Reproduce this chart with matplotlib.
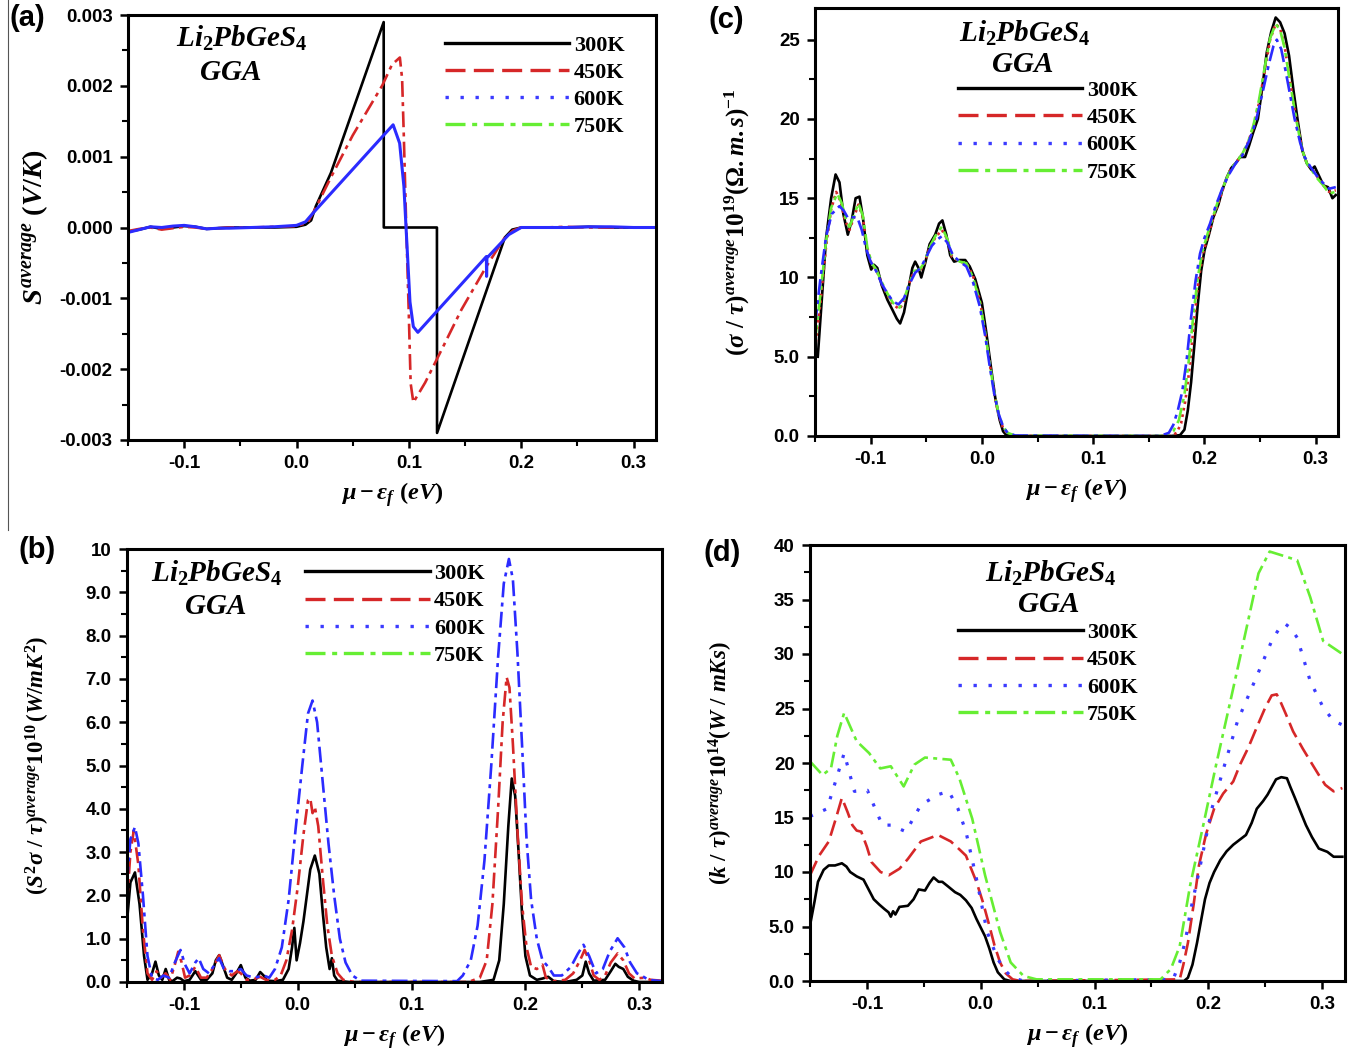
import numpy as np
import matplotlib
matplotlib.use("Agg")
import matplotlib.pyplot as plt
from matplotlib.lines import Line2D
from matplotlib.ticker import MultipleLocator, FixedLocator, FixedFormatter

plt.rcParams['font.family'] = 'Liberation Sans'
plt.rcParams['font.weight'] = 'bold'
plt.rcParams['mathtext.fontset'] = 'custom'
plt.rcParams['mathtext.rm'] = 'Liberation Serif:bold'
plt.rcParams['mathtext.it'] = 'Liberation Serif:italic:bold'
plt.rcParams['mathtext.bf'] = 'Liberation Serif:bold'

temps = ['300K', '450K', '600K', '750K']

# ---- (a) Seebeck coefficient S (V/K), pairs of (mu - Ef, S)
a_300 = np.array([
    [-0.15, -0.00006], [-0.14, -0.00003], [-0.13, 0.00001], [-0.12, -0.00002], [-0.11, 0.0],
    [-0.10, 0.00002], [-0.09, 0.00001], [-0.08, -0.00002], [-0.07, -0.00001], [-0.06, 0.0],
    [-0.04, 0.0], [-0.02, 0.0], [0.0, 0.00001], [0.008, 0.00004], [0.013, 0.0001],
    [0.0172, 0.0003], [0.0306, 0.00077], [0.0776, 0.0029], [0.0777, 0.0], [0.125, 0.0],
    [0.1251, -0.0029], [0.1855, -0.00014], [0.192, -0.00003], [0.20, 0.0], [0.22, 0.0],
    [0.24, 0.0], [0.26, 0.00001], [0.28, 0.0], [0.30, 0.0], [0.32, 0.0]])
a_450 = np.array([
    [-0.15, -0.00005], [-0.14, -0.00002], [-0.13, 0.0], [-0.12, -0.00003], [-0.11, -0.00001],
    [-0.10, 0.00001], [-0.09, 0.0], [-0.08, -0.00002], [-0.07, -0.00001], [-0.06, 0.0],
    [-0.04, 0.0], [-0.02, 0.00001], [0.0, 0.00002], [0.01, 0.00007], [0.0172, 0.00028],
    [0.031, 0.00072], [0.05, 0.0013], [0.0765, 0.00201], [0.085, 0.0023], [0.092, 0.0024],
    [0.094, 0.0021], [0.0955, 0.0013], [0.0977, 0.0], [0.1, -0.00125], [0.1016, -0.0022],
    [0.104, -0.00247], [0.1145, -0.00219], [0.1306, -0.00168], [0.1468, -0.00116], [0.169, -0.00055],
    [0.185, -0.00015], [0.193, -0.00004], [0.20, 0.0], [0.22, 0.0], [0.24, 0.00001],
    [0.26, 0.0], [0.28, 0.0], [0.30, 0.0], [0.32, 0.0]])
a_600 = np.array([
    [-0.15, -0.00007], [-0.14, -0.00003], [-0.13, 0.00001], [-0.12, 0.0], [-0.11, 0.00002],
    [-0.10, 0.00003], [-0.09, 0.00001], [-0.08, -0.00002], [-0.07, -0.00001], [-0.06, -0.00001],
    [-0.04, 0.0], [-0.02, 0.00001], [0.0, 0.00003], [0.008, 0.00008], [0.0145, 0.0002],
    [0.086, 0.00145], [0.0918, 0.00119], [0.0956, 0.00058], [0.0975, 0.0], [0.101, -0.00105],
    [0.104, -0.0014], [0.108, -0.00148], [0.169, -0.00041], [0.1692, -0.00069], [0.1695, -0.00043],
    [0.189, -0.0001], [0.20, 0.0], [0.22, 0.0], [0.24, 0.0], [0.26, 0.00001],
    [0.28, 0.00001], [0.30, 0.0], [0.32, 0.0]])

# ---- (b) power factor S^2 sigma / tau
b_300 = np.array([
    [-0.15, 1.4], [-0.147, 2.3], [-0.143, 2.53], [-0.139, 1.8], [-0.135, 0.6], [-0.132, 0.05],
    [-0.128, 0.2], [-0.125, 0.47], [-0.122, 0.15], [-0.119, 0.05], [-0.116, 0.3], [-0.113, 0.05],
    [-0.11, 0.02], [-0.106, 0.1], [-0.103, 0.08], [-0.1, 0.02], [-0.095, 0.05], [-0.09, 0.25],
    [-0.085, 0.05], [-0.08, 0.05], [-0.075, 0.2], [-0.072, 0.5], [-0.069, 0.62], [-0.066, 0.4],
    [-0.062, 0.1], [-0.058, 0.05], [-0.054, 0.2], [-0.05, 0.39], [-0.046, 0.1], [-0.042, 0.03],
    [-0.037, 0.05], [-0.033, 0.23], [-0.03, 0.15], [-0.027, 0.03], [-0.02, 0.02], [-0.013, 0.05],
    [-0.008, 0.3], [-0.005, 0.8], [-0.003, 1.25], [-0.001, 0.5], [0.002, 0.9], [0.005, 1.4],
    [0.008, 2.0], [0.011, 2.6], [0.015, 2.92], [0.019, 2.5], [0.022, 1.6], [0.025, 0.8],
    [0.028, 0.3], [0.03, 0.55], [0.032, 0.15], [0.035, 0.03], [0.045, 0.0], [0.1, 0.0],
    [0.16, 0.0], [0.172, 0.05], [0.177, 0.5], [0.181, 1.8], [0.185, 3.6], [0.188, 4.7],
    [0.191, 4.3], [0.194, 3.0], [0.197, 1.6], [0.2, 0.6], [0.204, 0.15], [0.21, 0.05],
    [0.215, 0.08], [0.22, 0.12], [0.225, 0.02], [0.235, 0.0], [0.245, 0.05], [0.25, 0.15],
    [0.253, 0.47], [0.256, 0.2], [0.26, 0.03], [0.27, 0.05], [0.275, 0.25], [0.279, 0.42],
    [0.282, 0.35], [0.286, 0.3], [0.29, 0.12], [0.295, 0.03], [0.3, 0.0], [0.32, 0.0]])
b_450 = np.array([
    [-0.15, 1.8], [-0.147, 3.0], [-0.144, 3.5], [-0.14, 2.7], [-0.136, 1.2], [-0.132, 0.2],
    [-0.128, 0.05], [-0.124, 0.25], [-0.12, 0.1], [-0.116, 0.2], [-0.112, 0.05], [-0.108, 0.4],
    [-0.105, 0.7], [-0.102, 0.45], [-0.099, 0.1], [-0.095, 0.15], [-0.09, 0.35], [-0.085, 0.1],
    [-0.08, 0.1], [-0.075, 0.3], [-0.069, 0.62], [-0.064, 0.3], [-0.058, 0.15], [-0.053, 0.25],
    [-0.05, 0.2], [-0.045, 0.05], [-0.04, 0.05], [-0.033, 0.12], [-0.028, 0.05], [-0.02, 0.05],
    [-0.015, 0.15], [-0.01, 0.5], [-0.005, 1.2], [0.0, 2.2], [0.005, 3.4], [0.009, 4.2],
    [0.011, 4.24], [0.013, 3.9], [0.015, 4.05], [0.018, 3.6], [0.022, 2.4], [0.026, 1.3],
    [0.03, 0.6], [0.035, 0.2], [0.04, 0.05], [0.05, 0.0], [0.15, 0.0], [0.16, 0.1],
    [0.166, 0.5], [0.171, 1.8], [0.176, 4.0], [0.18, 6.0], [0.1835, 7.04], [0.186, 6.8],
    [0.189, 5.5], [0.193, 3.5], [0.197, 1.8], [0.201, 0.8], [0.205, 0.35], [0.21, 0.3],
    [0.215, 0.4], [0.218, 0.1], [0.225, 0.02], [0.235, 0.05], [0.242, 0.2], [0.248, 0.5],
    [0.252, 0.74], [0.256, 0.5], [0.26, 0.15], [0.265, 0.05], [0.27, 0.15], [0.275, 0.45],
    [0.281, 0.66], [0.286, 0.5], [0.291, 0.2], [0.296, 0.08], [0.305, 0.1], [0.31, 0.05],
    [0.32, 0.03]])
b_600 = np.array([
    [-0.15, 2.3], [-0.147, 3.3], [-0.143, 3.58], [-0.14, 3.2], [-0.136, 2.0], [-0.132, 0.6],
    [-0.128, 0.1], [-0.123, 0.05], [-0.118, 0.15], [-0.113, 0.1], [-0.108, 0.45], [-0.103, 0.74],
    [-0.099, 0.4], [-0.095, 0.2], [-0.09, 0.45], [-0.087, 0.55], [-0.083, 0.3], [-0.078, 0.2],
    [-0.073, 0.4], [-0.069, 0.55], [-0.065, 0.31], [-0.06, 0.25], [-0.055, 0.25], [-0.05, 0.3],
    [-0.045, 0.15], [-0.038, 0.1], [-0.03, 0.15], [-0.025, 0.1], [-0.02, 0.3], [-0.014, 0.8],
    [-0.008, 1.9], [-0.002, 3.5], [0.004, 5.0], [0.009, 6.2], [0.013, 6.5], [0.017, 6.0],
    [0.022, 4.6], [0.027, 3.2], [0.032, 2.0], [0.037, 1.0], [0.042, 0.45], [0.048, 0.15],
    [0.055, 0.03], [0.14, 0.02], [0.145, 0.15], [0.152, 0.5], [0.158, 1.3], [0.164, 2.8],
    [0.17, 5.0], [0.176, 7.5], [0.181, 9.2], [0.1855, 9.77], [0.189, 9.3], [0.193, 7.6],
    [0.197, 5.5], [0.201, 3.3], [0.205, 1.9], [0.21, 1.0], [0.215, 0.5], [0.22, 0.35],
    [0.225, 0.15], [0.232, 0.15], [0.24, 0.35], [0.246, 0.65], [0.251, 0.86], [0.256, 0.6],
    [0.262, 0.2], [0.268, 0.3], [0.274, 0.7], [0.281, 1.01], [0.287, 0.8], [0.292, 0.45],
    [0.298, 0.2], [0.302, 0.15], [0.308, 0.05], [0.32, 0.02]])

# ---- (c) electrical conductivity sigma / tau
c_300 = np.array([
    [-0.1475, 5.0], [-0.144, 8.5], [-0.14, 12.5], [-0.1355, 15.0], [-0.1315, 16.5], [-0.128, 16.0],
    [-0.1245, 14.0], [-0.1205, 12.7], [-0.117, 13.6], [-0.1135, 15.0], [-0.11, 15.1], [-0.107, 13.8],
    [-0.103, 11.4], [-0.0995, 10.5], [-0.097, 10.8], [-0.094, 10.6], [-0.09, 9.5], [-0.085, 8.6],
    [-0.08, 7.9], [-0.0765, 7.4], [-0.0735, 7.1], [-0.07, 7.8], [-0.066, 9.3], [-0.0625, 10.6],
    [-0.06, 11.0], [-0.057, 10.6], [-0.0545, 10.0], [-0.051, 10.9], [-0.047, 12.1], [-0.042, 12.7],
    [-0.0385, 13.4], [-0.0355, 13.6], [-0.032, 12.7], [-0.0285, 11.4], [-0.025, 11.0], [-0.02, 11.1],
    [-0.015, 11.1], [-0.011, 10.7], [-0.006, 9.9], [0.0, 8.4], [0.004, 6.5], [0.008, 4.4],
    [0.012, 2.4], [0.016, 1.0], [0.019, 0.3], [0.022, 0.05], [0.03, 0.0], [0.17, 0.0],
    [0.178, 0.05], [0.182, 0.4], [0.185, 1.6], [0.188, 3.4], [0.191, 5.8], [0.194, 8.3],
    [0.197, 10.4], [0.2, 11.7], [0.204, 12.7], [0.208, 13.8], [0.2125, 14.6], [0.216, 15.5],
    [0.22, 16.3], [0.224, 16.9], [0.228, 17.2], [0.232, 17.6], [0.2365, 17.6], [0.24, 18.3],
    [0.244, 19.2], [0.248, 20.0], [0.252, 22.0], [0.256, 24.2], [0.26, 25.5], [0.264, 26.4],
    [0.268, 26.1], [0.272, 25.4], [0.276, 24.0], [0.28, 21.8], [0.284, 19.8], [0.288, 18.0],
    [0.292, 17.2], [0.296, 16.8], [0.299, 17.0], [0.303, 16.4], [0.307, 15.8], [0.311, 15.7],
    [0.315, 15.0], [0.318, 15.2]])
c_450 = np.array([
    [-0.15, 5.5], [-0.145, 8.5], [-0.14, 12.0], [-0.1355, 14.3], [-0.131, 15.4], [-0.127, 14.8],
    [-0.123, 13.6], [-0.119, 13.0], [-0.115, 13.8], [-0.111, 14.6], [-0.107, 13.8], [-0.103, 11.8],
    [-0.099, 10.8], [-0.095, 10.5], [-0.09, 9.6], [-0.085, 8.9], [-0.08, 8.3], [-0.074, 8.0],
    [-0.07, 8.5], [-0.066, 9.5], [-0.061, 10.4], [-0.056, 10.4], [-0.052, 10.8], [-0.047, 11.9],
    [-0.042, 12.5], [-0.036, 13.0], [-0.031, 12.4], [-0.027, 11.3], [-0.02, 11.0], [-0.014, 10.9],
    [-0.008, 10.1], [-0.002, 8.6], [0.003, 6.6], [0.007, 4.6], [0.011, 2.7], [0.015, 1.3],
    [0.019, 0.5], [0.023, 0.15], [0.03, 0.0], [0.17, 0.0], [0.175, 0.2], [0.179, 0.8],
    [0.183, 2.3], [0.187, 4.5], [0.191, 7.5], [0.195, 10.0], [0.199, 11.6], [0.204, 12.8],
    [0.209, 14.0], [0.214, 15.0], [0.219, 16.1], [0.224, 16.9], [0.229, 17.3], [0.234, 17.8],
    [0.239, 18.5], [0.244, 19.5], [0.249, 21.0], [0.254, 23.0], [0.259, 25.0], [0.264, 26.0],
    [0.268, 25.7], [0.272, 24.6], [0.276, 22.8], [0.28, 21.0], [0.284, 19.5], [0.288, 18.0],
    [0.292, 17.2], [0.297, 16.8], [0.302, 16.3], [0.307, 15.8], [0.312, 15.4], [0.318, 15.5]])
c_600 = np.array([
    [-0.15, 7.0], [-0.145, 10.0], [-0.14, 12.6], [-0.135, 14.0], [-0.128, 14.5], [-0.124, 14.2],
    [-0.12, 13.7], [-0.116, 13.8], [-0.112, 13.8], [-0.108, 13.0], [-0.104, 11.8], [-0.1, 11.0],
    [-0.095, 10.4], [-0.09, 9.6], [-0.085, 9.0], [-0.08, 8.5], [-0.075, 8.3], [-0.07, 8.7],
    [-0.065, 9.6], [-0.06, 10.3], [-0.055, 10.6], [-0.05, 11.3], [-0.045, 12.0], [-0.04, 12.4],
    [-0.036, 12.6], [-0.031, 12.2], [-0.026, 11.4], [-0.02, 11.0], [-0.014, 10.7], [-0.008, 9.7],
    [-0.002, 8.2], [0.003, 6.3], [0.007, 4.4], [0.011, 2.7], [0.015, 1.4], [0.019, 0.6],
    [0.023, 0.2], [0.03, 0.03], [0.16, 0.0], [0.168, 0.2], [0.172, 0.7], [0.176, 1.6],
    [0.18, 2.8], [0.184, 4.8], [0.188, 7.5], [0.192, 9.8], [0.196, 11.5], [0.2, 12.5],
    [0.205, 13.4], [0.21, 14.5], [0.216, 15.6], [0.222, 16.5], [0.228, 17.2], [0.234, 17.7],
    [0.24, 18.6], [0.246, 19.8], [0.252, 21.6], [0.258, 23.5], [0.262, 24.6], [0.265, 25.0],
    [0.269, 24.4], [0.273, 23.0], [0.277, 21.5], [0.281, 20.0], [0.286, 18.5], [0.29, 17.6],
    [0.295, 17.0], [0.3, 16.5], [0.306, 16.0], [0.312, 15.6], [0.318, 15.7]])
c_750 = np.array([
    [-0.15, 6.0], [-0.145, 9.0], [-0.14, 12.3], [-0.1355, 14.4], [-0.13, 15.3], [-0.126, 14.7],
    [-0.122, 13.6], [-0.119, 13.2], [-0.115, 13.9], [-0.111, 14.7], [-0.107, 13.9], [-0.103, 11.9],
    [-0.099, 10.9], [-0.095, 10.5], [-0.09, 9.7], [-0.085, 9.0], [-0.08, 8.4], [-0.074, 8.1],
    [-0.07, 8.6], [-0.066, 9.5], [-0.061, 10.4], [-0.056, 10.5], [-0.052, 10.9], [-0.047, 11.9],
    [-0.042, 12.6], [-0.036, 13.2], [-0.031, 12.4], [-0.027, 11.4], [-0.02, 11.0], [-0.014, 10.9],
    [-0.008, 10.0], [-0.002, 8.5], [0.003, 6.5], [0.007, 4.6], [0.011, 2.8], [0.015, 1.4],
    [0.019, 0.6], [0.023, 0.2], [0.03, 0.02], [0.165, 0.0], [0.172, 0.3], [0.177, 1.0],
    [0.182, 2.6], [0.186, 4.8], [0.19, 7.6], [0.194, 10.0], [0.198, 11.6], [0.203, 12.8],
    [0.208, 13.9], [0.213, 15.0], [0.219, 16.1], [0.224, 16.9], [0.229, 17.3], [0.234, 17.8],
    [0.239, 18.5], [0.244, 19.6], [0.249, 21.2], [0.254, 23.2], [0.259, 25.1], [0.264, 26.0],
    [0.268, 25.6], [0.272, 24.5], [0.276, 22.7], [0.28, 21.0], [0.284, 19.4], [0.288, 18.0],
    [0.292, 17.2], [0.297, 16.7], [0.302, 16.2], [0.307, 15.8], [0.312, 15.3], [0.318, 15.4]])

# ---- (d) electronic thermal conductivity k / tau
d_300 = np.array([
    [-0.15, 5.1], [-0.146, 7.3], [-0.143, 9.1], [-0.138, 10.2], [-0.1335, 10.6], [-0.128, 10.6],
    [-0.122, 10.8], [-0.118, 10.5], [-0.1147, 10.0], [-0.109, 9.6], [-0.103, 9.3], [-0.099, 8.5],
    [-0.094, 7.5], [-0.089, 7.0], [-0.0846, 6.6], [-0.081, 6.3], [-0.079, 5.9], [-0.077, 6.4],
    [-0.075, 6.1], [-0.0714, 6.8], [-0.064, 6.9], [-0.059, 7.5], [-0.0545, 8.4], [-0.049, 8.3],
    [-0.045, 9.0], [-0.0414, 9.5], [-0.037, 9.1], [-0.0338, 9.1], [-0.029, 8.7], [-0.0226, 8.15],
    [-0.018, 7.9], [-0.013, 7.4], [-0.008, 6.7], [-0.0038, 5.7], [0.0, 4.9], [0.0038, 4.1],
    [0.0075, 3.0], [0.0113, 1.7], [0.015, 0.8], [0.0207, 0.15], [0.026, 0.0], [0.1786, 0.0],
    [0.182, 0.3], [0.186, 1.5], [0.19, 3.5], [0.194, 5.8], [0.197, 7.5], [0.201, 9.0],
    [0.205, 10.0], [0.2105, 11.1], [0.216, 11.9], [0.2218, 12.5], [0.228, 13.0], [0.233, 13.4],
    [0.238, 14.5], [0.2425, 15.8], [0.248, 16.5], [0.252, 17.1], [0.2594, 18.5], [0.264, 18.7],
    [0.269, 18.6], [0.272, 17.8], [0.276, 16.8], [0.281, 15.5], [0.2857, 14.3], [0.291, 13.2],
    [0.297, 12.15], [0.3045, 11.85], [0.31, 11.4], [0.3177, 11.4]])
d_450 = np.array([
    [-0.15, 9.7], [-0.142, 11.5], [-0.1335, 12.8], [-0.127, 15.0], [-0.122, 16.8], [-0.117, 15.5],
    [-0.1128, 14.3], [-0.109, 13.8], [-0.105, 13.7], [-0.1, 12.3], [-0.0959, 10.9], [-0.088, 10.0],
    [-0.0808, 9.7], [-0.0714, 10.3], [-0.064, 11.2], [-0.0526, 12.8], [-0.045, 13.1], [-0.0376, 13.4],
    [-0.0263, 12.8], [-0.02, 12.2], [-0.013, 11.5], [-0.0038, 9.1], [0.002, 7.2], [0.0075, 5.1],
    [0.012, 3.3], [0.017, 1.7], [0.022, 0.7], [0.028, 0.15], [0.035, 0.0], [0.1748, 0.15],
    [0.178, 1.5], [0.182, 3.5], [0.187, 7.0], [0.1917, 10.6], [0.198, 13.5], [0.205, 15.8],
    [0.213, 17.2], [0.2218, 18.3], [0.228, 19.9], [0.235, 21.4], [0.243, 23.4], [0.25, 25.1],
    [0.2556, 26.2], [0.26, 26.3], [0.263, 25.7], [0.268, 24.5], [0.2744, 22.9], [0.283, 21.3],
    [0.2914, 19.85], [0.297, 18.9], [0.3026, 18.0], [0.31, 17.4], [0.3177, 17.7]])
d_600 = np.array([
    [-0.15, 15.1], [-0.135, 15.8], [-0.127, 18.5], [-0.12, 20.9], [-0.111, 17.4], [-0.0996, 17.5],
    [-0.0865, 14.3], [-0.079, 14.3], [-0.0658, 13.7], [-0.0526, 16.15], [-0.0376, 17.1], [-0.028, 17.4],
    [-0.02, 15.8], [-0.013, 13.7], [-0.0038, 9.4], [0.0056, 4.5], [0.015, 2.0], [0.022, 0.9],
    [0.028, 0.3], [0.0376, 0.0], [0.169, 0.15], [0.1748, 1.7], [0.18, 3.8], [0.184, 6.3],
    [0.1917, 10.0], [0.203, 15.8], [0.2143, 19.85], [0.2256, 23.85], [0.2406, 27.5], [0.2556, 31.2],
    [0.262, 32.3], [0.267, 32.8], [0.272, 32.4], [0.278, 31.5], [0.2895, 27.5], [0.3008, 25.1],
    [0.31, 23.85], [0.3177, 23.5]])
d_750 = np.array([
    [-0.15, 20.15], [-0.139, 18.9], [-0.1316, 19.5], [-0.126, 22.5], [-0.12, 24.6], [-0.109, 22.0],
    [-0.098, 20.9], [-0.0883, 19.5], [-0.079, 19.7], [-0.0677, 17.85], [-0.0583, 19.85], [-0.049, 20.5],
    [-0.0263, 20.3], [-0.0188, 18.6], [-0.0075, 14.9], [0.0038, 9.7], [0.017, 4.5], [0.0263, 1.7],
    [0.0376, 0.46], [0.049, 0.15], [0.158, 0.15], [0.167, 1.1], [0.1748, 3.2], [0.184, 8.8],
    [0.1955, 14.3], [0.2068, 19.85], [0.22, 26.0], [0.233, 32.15], [0.244, 37.4], [0.2538, 39.4],
    [0.263, 39.1], [0.278, 38.6], [0.2895, 35.2], [0.3008, 31.2], [0.3177, 30.0]])

# line styles
LW = 1.9
solid = '-'
dash = (0, (6, 2.5))
dot = (0, (1, 3.5))
dashdot = (0, (6, 2, 1.5, 2))
dot_dense = (0, (1, 1.5))
legend_styles = [('black', solid), ('#d62728', dash), ('#3b3bff', dot), ('#66ee33', dashdot)]

fig = plt.figure(figsize=(13.53, 10.57), dpi=100)
W, H = 1353.0, 1057.0


def make_ax(left, top, right, bottom):
    return fig.add_axes([left / W, 1 - bottom / H, (right - left) / W, (bottom - top) / H])


axa = make_ax(128, 15, 656, 440)
axc = make_ax(815, 8, 1338, 436)
axb = make_ax(127, 549, 662, 982)
axd = make_ax(810, 545, 1345, 981)

axa.plot(a_300[:, 0], a_300[:, 1], color='black', lw=LW, ls=solid)
axa.plot(a_450[:, 0], a_450[:, 1], color='#d62728', lw=LW, ls=dashdot)
axa.plot(a_600[:, 0], a_600[:, 1], color='#2b2bff', lw=LW + 0.3, ls=solid)

axb.plot(b_300[:, 0], b_300[:, 1], color='black', lw=LW, ls=solid)
axb.plot(b_450[:, 0], b_450[:, 1], color='#d62728', lw=LW, ls=dashdot)
axb.plot(b_600[:, 0], b_600[:, 1], color='#2b2bff', lw=LW, ls=dashdot)

axc.plot(c_300[:, 0], c_300[:, 1], color='black', lw=LW, ls=solid)
axc.plot(c_450[:, 0], c_450[:, 1], color='#d62728', lw=LW, ls=dot_dense)
axc.plot(c_750[:, 0], c_750[:, 1], color='#66ee33', lw=LW, ls=dashdot)
axc.plot(c_600[:, 0], c_600[:, 1], color='#2b2bff', lw=LW, ls=dashdot)

axd.plot(d_300[:, 0], d_300[:, 1], color='black', lw=LW, ls=solid)
axd.plot(d_450[:, 0], d_450[:, 1], color='#d62728', lw=LW, ls=dash)
axd.plot(d_600[:, 0], d_600[:, 1], color='#3b3bff', lw=LW + 0.4, ls=dot)
axd.plot(d_750[:, 0], d_750[:, 1], color='#66ee33', lw=LW, ls=dashdot)

xtick_vals = [-0.1, 0.0, 0.1, 0.2, 0.3]
xtick_labels = ['-0.1', '0.0', '0.1', '0.2', '0.3']

ycfg = {
    axa: ((-0.003, 0.003), [-0.003, -0.002, -0.001, 0.0, 0.001, 0.002, 0.003],
          ['-0.003', '-0.002', '-0.001', '0.000', '0.001', '0.002', '0.003'], 0.0005),
    axb: ((0, 10), list(range(11)),
          ['0.0', '1.0', '2.0', '3.0', '4.0', '5.0', '6.0', '7.0', '8.0', '9.0', '10'], 0.5),
    axc: ((0, 27), [0, 5, 10, 15, 20, 25], ['0.0', '5.0', '10', '15', '20', '25'], 2.5),
    axd: ((0, 40), [0, 5, 10, 15, 20, 25, 30, 35, 40],
          ['0.0', '5.0', '10', '15', '20', '25', '30', '35', '40'], 2.5),
}

for ax, (ylim, yt, ytl, ymin) in ycfg.items():
    ax.set_xlim(-0.15, 0.32)
    ax.set_ylim(*ylim)
    ax.xaxis.set_major_locator(FixedLocator(xtick_vals))
    ax.xaxis.set_major_formatter(FixedFormatter(xtick_labels))
    ax.xaxis.set_minor_locator(MultipleLocator(0.05))
    ax.yaxis.set_major_locator(FixedLocator(yt))
    ax.yaxis.set_major_formatter(FixedFormatter(ytl))
    ax.yaxis.set_minor_locator(MultipleLocator(ymin))
    ax.tick_params(which='major', direction='out', length=6, width=1.8, labelsize=13.5, pad=5)
    ax.tick_params(which='minor', direction='out', length=4, width=1.5)
    for s in ax.spines.values():
        s.set_linewidth(2.2)
    for lab in ax.get_xticklabels() + ax.get_yticklabels():
        lab.set_fontweight('bold')
    ax.set_xlabel(r'$\mu - \varepsilon_f\ (eV)$', fontsize=17.5, labelpad=6)

axa.set_ylabel(r'$S^{average}\ (V/K)$', fontsize=20.5)
axa.yaxis.set_label_coords(-0.148, 0.5)
axb.set_ylabel(r'$(S^2\sigma\ /\ \tau)^{average}10^{10}\,(W/mK^2)$', fontsize=16.5)
axb.yaxis.set_label_coords(-0.14, 0.5)
axc.set_ylabel(r'$(\sigma\ /\ \tau)^{average}10^{19}(\Omega.m.s)^{-1}$', fontsize=18)
axc.yaxis.set_label_coords(-0.12, 0.5)
axd.set_ylabel(r'$(k\ /\ \tau)^{average}10^{14}(W\ /\ mKs)$', fontsize=16.5)
axd.yaxis.set_label_coords(-0.14, 0.5)

# compound name and method
title_pos = {axa: (0.216, 0.945, 0.193, 0.866), axb: (0.168, 0.944, 0.164, 0.868),
             axc: (0.40, 0.941, 0.396, 0.869), axd: (0.449, 0.935, 0.445, 0.864)}
for ax, (tx, ty, gx, gy) in title_pos.items():
    ax.text(tx, ty, r'$Li_2PbGeS_4$', transform=ax.transAxes, ha='center', va='center', fontsize=21)
    ax.text(gx, gy, r'$GGA$', transform=ax.transAxes, ha='center', va='center', fontsize=21)

handles = [Line2D([], [], color=c, ls=ls, lw=2.4) for c, ls in legend_styles]
leg_pos = {axa: (0.60, 0.953), axb: (0.333, 0.966), axc: (0.273, 0.831), axd: (0.277, 0.822)}
for ax, (lx, ly) in leg_pos.items():
    ax.legend(handles, temps, loc='upper left', bbox_to_anchor=(lx, ly), frameon=False,
              handlelength=5.6, handletextpad=0.2, labelspacing=0.3, borderpad=0,
              borderaxespad=0, prop={'family': 'Liberation Serif', 'weight': 'bold', 'size': 16})

# panel letters
for lbl, (px, py) in zip(['(a)', '(b)', '(c)', '(d)'],
                         [(27, 18), (37, 550), (726, 20), (722, 553)]):
    fig.text(px / W, 1 - py / H, lbl, ha='center', va='center', fontsize=21, fontweight='bold',
             family='Liberation Sans')

fig.add_artist(Line2D([8 / W, 8 / W], [1, 1 - 530 / H], color='#555555', lw=0.8))

fig.savefig('out.png', dpi=100)
